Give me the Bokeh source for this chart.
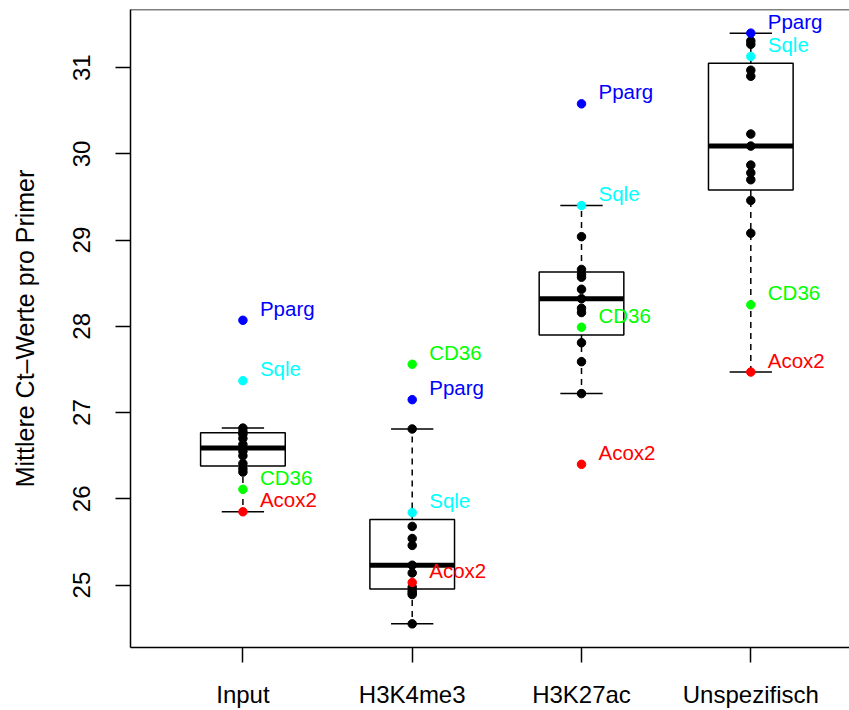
import numpy as np
from bokeh.plotting import figure
from bokeh.models import Range1d, FixedTicker, ColumnDataSource, Span
from bokeh.core.properties import value
from bokeh.embed import file_html
from bokeh.resources import INLINE

# ---- data -------------------------------------------------------------
groups = ["Input", "H3K4me3", "H3K27ac", "Unspezifisch"]
primers = ["Pparg", "Sqle", "CD36", "Acox2"] + ["other"] * 11
primer_colors = {"Pparg": "#0000FF", "Sqle": "#00FFFF", "CD36": "#00FF00",
                 "Acox2": "#FF0000", "other": "#000000"}

# mean Ct per primer (first four: Pparg, Sqle, CD36, Acox2; then 11 others)
ct_input = [28.07, 27.37, 26.11, 25.85,
            26.31, 26.35, 26.41, 26.50, 26.55, 26.59, 26.63, 26.70, 26.75, 26.78, 26.82]
ct_h3k4me3 = [27.15, 25.84, 27.56, 25.03,
              24.55, 24.89, 24.91, 24.935, 24.975, 25.14, 25.23, 25.46, 25.54, 25.68, 26.81]
ct_h3k27ac = [30.58, 29.40, 27.99, 26.40,
              27.22, 27.59, 27.81, 28.16, 28.21, 28.32, 28.43, 28.57, 28.60, 28.66, 29.04]
ct_unspez = [31.40, 31.13, 28.25, 27.47,
             29.08, 29.46, 29.70, 29.78, 29.87, 30.09, 30.23, 30.90, 30.97, 31.27, 31.31]
ct_values = [ct_input, ct_h3k4me3, ct_h3k27ac, ct_unspez]

y_ticks = [25, 26, 27, 28, 29, 30, 31]
y_label = "Mittlere Ct\u2013Werte pro Primer"


# ---- R-style box statistics -------------------------------------------
def fivenum(v):
    x = np.sort(np.asarray(v, dtype=float))
    n = len(x)
    n4 = np.floor((n + 3) / 2) / 2
    d = np.array([1, n4, (n + 1) / 2, n + 1 - n4, n])
    return 0.5 * (x[np.floor(d).astype(int) - 1] + x[np.ceil(d).astype(int) - 1])


def box_stats(v):
    s = fivenum(v)
    iqr = s[3] - s[1]
    lo_lim, hi_lim = s[1] - 1.5 * iqr, s[3] + 1.5 * iqr
    arr = np.asarray(v)
    inside = arr[(arr >= lo_lim) & (arr <= hi_lim)]
    return inside.min(), s[1], s[2], s[3], inside.max()


xs = np.arange(1, len(groups) + 1)
stats = [box_stats(v) for v in ct_values]
wlo = [s[0] for s in stats]
q1 = [s[1] for s in stats]
med = [s[2] for s in stats]
q3 = [s[3] for s in stats]
whi = [s[4] for s in stats]

all_vals = np.concatenate([np.asarray(v) for v in ct_values])
rng = all_vals.max() - all_vals.min()
y0, y1 = all_vals.min() - 0.04 * rng, all_vals.max() + 0.04 * rng

FONT = "Liberation Sans"

p = figure(width=849, height=710, output_backend="svg", toolbar_location=None,
           x_range=Range1d(0.336, 4.583), y_range=Range1d(y0, y1),
           min_border_left=130, min_border_right=0, min_border_top=9,
           min_border_bottom=62)
p.outline_line_color = None
p.grid.visible = False
p.background_fill_color = "white"

# top frame line (right side falls outside the picture)
p.add_layout(Span(location=y1, dimension="width", line_color="black", line_width=1.5))

bw = 0.25
# whiskers
p.segment(x0=xs, y0=q3, x1=xs, y1=whi, line_color="black", line_width=1.5, line_dash="6 5")
p.segment(x0=xs, y0=q1, x1=xs, y1=wlo, line_color="black", line_width=1.5, line_dash="6 5")
# staples
p.segment(x0=xs - bw / 2, y0=whi, x1=xs + bw / 2, y1=whi, line_color="black", line_width=1.5)
p.segment(x0=xs - bw / 2, y0=wlo, x1=xs + bw / 2, y1=wlo, line_color="black", line_width=1.5)
# boxes
p.quad(left=xs - bw, right=xs + bw, bottom=q1, top=q3, fill_color="white",
       line_color="black", line_width=1.5)
# medians
p.segment(x0=xs - bw, y0=med, x1=xs + bw, y1=med, line_color="black", line_width=5)

# points
px, py, pc, pname = [], [], [], []
for xi, vals in zip(xs, ct_values):
    for name, v in zip(primers, vals):
        px.append(xi)
        py.append(v)
        pc.append(primer_colors[name])
        pname.append(name)
order = sorted(range(len(px)), key=lambda i: pname[i] != "other")
src = ColumnDataSource(dict(x=[px[i] for i in order], y=[py[i] for i in order],
                            c=[pc[i] for i in order], n=[pname[i] for i in order]))
p.scatter(x="x", y="y", size=8.5, fill_color="c", line_color="c", source=src)

lab = ColumnDataSource(dict(
    x=[px[i] for i in range(len(px)) if pname[i] != "other"],
    y=[py[i] for i in range(len(px)) if pname[i] != "other"],
    t=[pname[i] for i in range(len(px)) if pname[i] != "other"],
    c=[pc[i] for i in range(len(px)) if pname[i] != "other"]))
p.text(x="x", y="y", text="t", text_color="c", source=lab, x_offset=17, y_offset=-12,
       text_baseline="alphabetic", text_align="left", text_font=value(FONT),
       text_font_size="20.5px")

# axes
xa = p.xaxis[0]
xa.ticker = FixedTicker(ticks=list(xs))
xa.major_label_overrides = {int(i): g for i, g in zip(xs, groups)}
xa.major_tick_out = 15
xa.major_tick_in = 0
xa.minor_tick_line_color = None
xa.major_tick_line_width = 1.5
xa.axis_line_width = 1.5
xa.major_label_standoff = 18
xa.major_label_text_font = FONT
xa.major_label_text_font_size = "24px"
xa.major_label_text_color = "black"

ya = p.yaxis[0]
ya.ticker = FixedTicker(ticks=y_ticks)
ya.major_tick_out = 15
ya.major_tick_in = 0
ya.minor_tick_line_color = None
ya.major_tick_line_width = 1.5
ya.axis_line_width = 1.5
ya.major_label_orientation = "vertical"
ya.major_label_standoff = 25
ya.major_label_text_font = FONT
ya.major_label_text_font_size = "24px"
ya.major_label_text_color = "black"
ya.axis_label = y_label
ya.axis_label_text_font = FONT
ya.axis_label_text_font_size = "25px"
ya.axis_label_text_font_style = "normal"
ya.axis_label_text_color = "black"
ya.axis_label_standoff = 32

open("out.html", "w").write(file_html(p, INLINE))
